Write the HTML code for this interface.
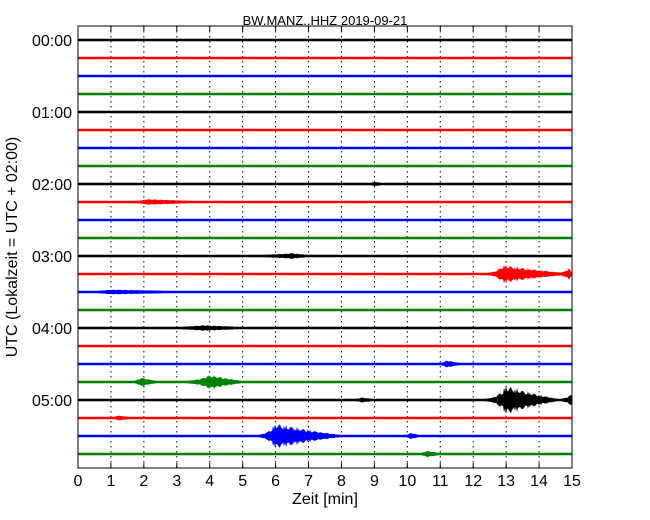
<!DOCTYPE html>
<html><head><meta charset="utf-8"><style>
body{margin:0;background:#fff;}
svg{display:block;font-family:"Liberation Sans","DejaVu Sans",sans-serif;}
</style></head><body>
<svg id="chart" width="650" height="520">
  <text x="325" y="25" text-anchor="middle" font-size="13">BW.MANZ..HHZ 2019-09-21</text>
  <g id="grid"></g>
  <g id="traces"></g>
  <rect x="78" y="26" width="494" height="442" fill="none" stroke="#000" stroke-width="1"/>
  <g id="xticks"></g>
  <g id="yticks"></g>
  <text x="325" y="504" text-anchor="middle" font-size="16">Zeit  [min]</text>
  <text transform="translate(17,247) rotate(-90)" text-anchor="middle" font-size="16">UTC (Lokalzeit = UTC + 02:00)</text>
</svg>
<script>
const xTicks=[0,1,2,3,4,5,6,7,8,9,10,11,12,13,14,15];
const yLabels=["00:00","01:00","02:00","03:00","04:00","05:00"];
const rowCount=24;
const rowColors=["#000000","#ff0000","#0000ff","#008000"];
// events: [row, startMin, peakMin, endMin, amplitudePx]
const eventRows=[9,12,13,13,14,16,18,19,19,20,20,20,21,22,22,23,8];
const eventStart=[1.5,4.8,12.3,14.5,0.2,2.5,10.9,1.6,3,12.2,14.5,8.3,1,5.3,9.9,10.3,8.7];
const eventPeak=[2.1,6.5,12.9,14.9,1,3.8,11.2,1.9,4,13,15,8.6,1.2,6,10.1,10.6,9];
const eventEnd=[3.5,7,14.8,15,3,5,11.6,2.4,5,14.6,15,9,1.6,8,10.4,11,9.3];
const eventAmp=[2,2,9,6,1.5,2,3,4,7,15,6,1.5,1.5,13,2.5,2.5,1];

const X0=78,X1=572,Y0=40,DY=18,NS="http://www.w3.org/2000/svg";
const xs=m=>X0+(X1-X0)*m/15;
const ys=r=>Y0+DY*r;
function mk(t,a,p){const e=document.createElementNS(NS,t);for(const k in a)e.setAttribute(k,a[k]);p.appendChild(e);return e;}
const grid=document.getElementById('grid'),xt=document.getElementById('xticks'),yt=document.getElementById('yticks'),tr=document.getElementById('traces');
xTicks.forEach(v=>{
  const x=xs(v);
  if(v>0&&v<15){const l=mk('line',{x1:x,x2:x,y1:26,y2:468,stroke:'#000','stroke-width':1,'stroke-dasharray':'1.5,3.5'},grid);
  
  }
  const t=mk('text',{x:x,y:486,'text-anchor':'middle','font-size':16},xt);t.textContent=v;
  
  
  mk('line',{x1:x,x2:x,y1:26,y2:31,stroke:'#000'},xt);
  mk('line',{x1:x,x2:x,y1:463,y2:468,stroke:'#000'},xt);
});
yLabels.forEach((s,i)=>{
  const t=mk('text',{x:72,y:ys(i*4)+6,'text-anchor':'end','font-size':16},yt);t.textContent=s;
  
  
});
for(let r=0;r<rowCount;r++){
  const y=ys(r),c=rowColors[r%4];
  const N=494;const top=[],bot=[];
  for(let i=0;i<=N;i++){
    const m=15*i/N;let a=1.2;
    for(let k=0;k<eventRows.length;k++){
      if(eventRows[k]!==r)continue;
      const s=eventStart[k],p=eventPeak[k],e=eventEnd[k];
      if(m<s||m>e)continue;
      let f=m<=p?(p===s?1:(m-s)/(p-s)):(e===p?1:1-(m-p)/(e-p));
      f=m<=p?Math.pow(f,3):Math.pow(f,1.2);
      const w=0.45+0.55*Math.abs(Math.sin(i*1.7)*Math.cos(i*0.53));
      a=Math.max(a,1.2+eventAmp[k]*f*w);
    }
    top.push(xs(m).toFixed(1)+','+(y-a).toFixed(1));
    bot.unshift(xs(m).toFixed(1)+','+(y+a).toFixed(1));
  }
  const pg=mk('polygon',{points:top.concat(bot).join(' '),fill:c},tr);
  
  
}
</script>
</body></html>
